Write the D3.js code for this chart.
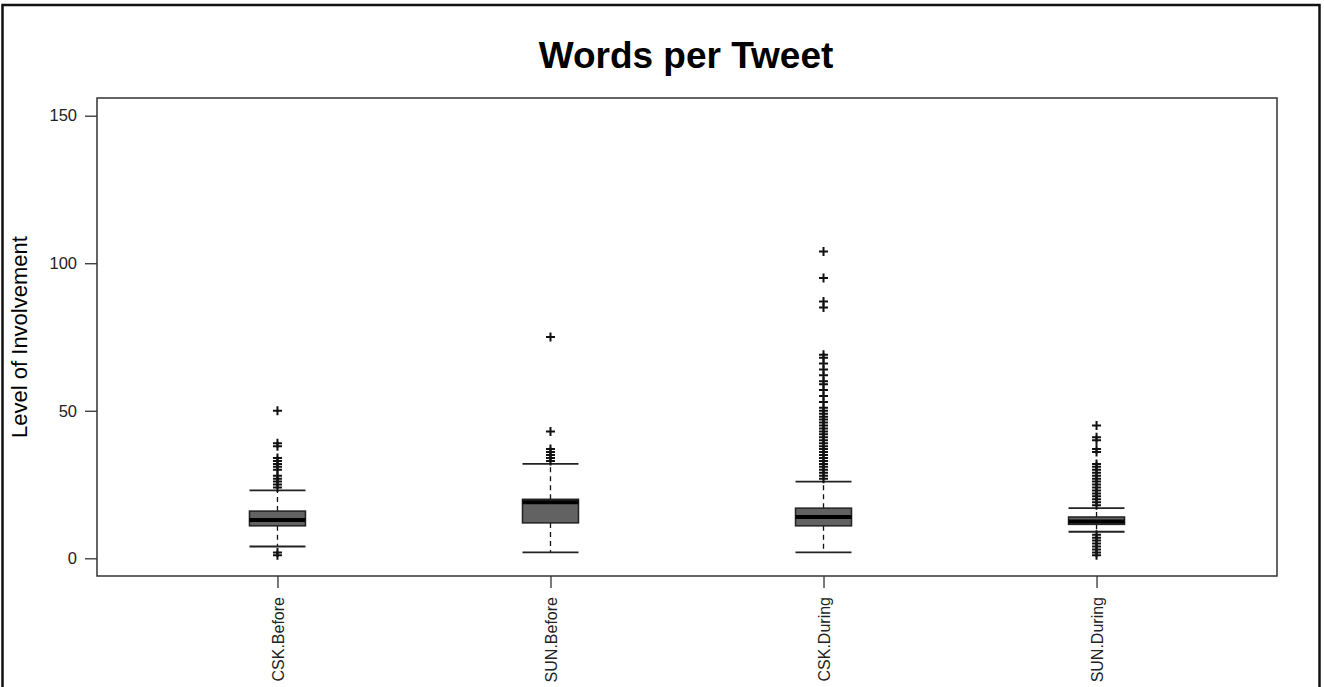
<!DOCTYPE html>
<html>
<head>
<meta charset="utf-8">
<script src="https://cdn.jsdelivr.net/npm/d3@7"></script>
<style>
  body { margin: 0; background: #fff; }
  svg { display: block; font-family: "Liberation Sans", Arial, sans-serif; }
</style>
</head>
<body>
<div id="chartWrapper"></div>
<script>
//data
const categories = ['CSK.Before', 'SUN.Before', 'CSK.During', 'SUN.During'];
const q1Values = [11, 12, 11, 11.5];
const medianValues = [13, 19, 14, 12.5];
const q3Values = [16, 20, 17, 14];
const whiskerLow = [4, 2, 2, 9];
const whiskerHigh = [23, 32, 26, 17];
const outliersCskBefore = [50, 39, 38, 34, 33, 32, 31, 30, 28, 27, 26, 25, 24, 2, 1];
const outliersSunBefore = [75, 43, 37, 36, 35, 34, 33];
const outliersCskDuring = [104, 95, 87, 85, 69, 68, 66, 64, 62, 60, 59, 57, 55, 53, 51, 50,
    49, 48, 47, 46, 45, 44, 43, 42, 41, 40, 39, 38, 37, 36, 35, 34, 33, 32, 31, 30, 29, 28, 27];
const outliersSunDuring = [45, 41, 40, 37, 36, 32, 31, 30, 29, 28, 27, 26, 25, 24, 23, 22, 21, 20, 19, 18,
    8, 7, 6, 5, 4, 3, 2, 1];
const yTicks = [0, 50, 100, 150];

//layout constants
const CONSTANTS = {
    WIDTH: 1324,
    HEIGHT: 687,
    PLOT_LEFT: 97,
    PLOT_RIGHT: 1277,
    PLOT_TOP: 98,
    PLOT_BOTTOM: 576,
    BOX_WIDTH: 56,
    BOX_FILL: '#626262',
    TICK_SIZE: 12
};

const outliers = [outliersCskBefore, outliersSunBefore, outliersCskDuring, outliersSunDuring];
const boxes = categories.map((c, i) => ({
    name: c,
    q1: q1Values[i],
    median: medianValues[i],
    q3: q3Values[i],
    low: whiskerLow[i],
    high: whiskerHigh[i],
    outliers: outliers[i]
}));

const svg = d3.select('#chartWrapper')
    .append('svg')
    .attr('width', CONSTANTS.WIDTH)
    .attr('height', CONSTANTS.HEIGHT);

//outer frame of the figure
svg.append('rect')
    .attr('x', 2.5).attr('y', 5)
    .attr('width', 1317).attr('height', 700)
    .attr('fill', 'none')
    .attr('stroke', '#111')
    .attr('stroke-width', 2.5);

//scales
let x = d3.scalePoint()
    .domain(categories)
    .range([CONSTANTS.PLOT_LEFT, CONSTANTS.PLOT_RIGHT])
    .padding(0.661);

let y = d3.scaleLinear()
    .domain([-6, 156])
    .range([CONSTANTS.PLOT_BOTTOM, CONSTANTS.PLOT_TOP]);

//title
svg.append('text')
    .attr('x', 686).attr('y', 68)
    .attr('text-anchor', 'middle')
    .style('font-size', '37px')
    .style('font-weight', 'bold')
    .text('Words per Tweet');

//y axis
let yAxis = d3.axisLeft(y).tickValues(yTicks).tickSize(CONSTANTS.TICK_SIZE).tickPadding(8);
let gy = svg.append('g')
    .attr('transform', 'translate(' + CONSTANTS.PLOT_LEFT + ',0)')
    .call(yAxis);
gy.select('.domain').remove();
gy.selectAll('line').attr('stroke', '#333').attr('stroke-width', 1.3);
gy.selectAll('text').style('font-size', '16.5px').attr('fill', '#222').style('font-family', '"Liberation Sans", Arial, sans-serif');

//x axis
let xAxis = d3.axisBottom(x).tickSize(CONSTANTS.TICK_SIZE).tickPadding(9);
let gx = svg.append('g')
    .attr('transform', 'translate(0,' + CONSTANTS.PLOT_BOTTOM + ')')
    .call(xAxis);
gx.select('.domain').remove();
gx.selectAll('line').attr('stroke', '#333').attr('stroke-width', 1.3);
gx.selectAll('text')
    .style('font-size', '16px')
    .style('font-family', '"Liberation Sans", Arial, sans-serif')
    .attr('fill', '#222')
    .attr('text-anchor', 'end')
    .attr('transform', 'rotate(-90)')
    .attr('x', -21)
    .attr('y', 0)
    .attr('dy', '0.35em');

//y axis title
svg.append('text')
    .attr('transform', 'translate(27,337) rotate(-90)')
    .attr('text-anchor', 'middle')
    .style('font-size', '22px')
    .text('Level of Involvement');

//boxes
let g = svg.append('g');
let bw = CONSTANTS.BOX_WIDTH;

boxes.forEach(b => {
    let cx = x(b.name);
    //dashed whiskers
    g.append('line')
        .attr('x1', cx).attr('x2', cx)
        .attr('y1', y(b.q3)).attr('y2', y(b.high))
        .attr('stroke', '#111').attr('stroke-width', 1.3)
        .attr('stroke-dasharray', '5,4');
    g.append('line')
        .attr('x1', cx).attr('x2', cx)
        .attr('y1', y(b.q1)).attr('y2', y(b.low))
        .attr('stroke', '#111').attr('stroke-width', 1.3)
        .attr('stroke-dasharray', '5,4');
    //caps
    [b.low, b.high].forEach(v => {
        g.append('line')
            .attr('x1', cx - bw / 2).attr('x2', cx + bw / 2)
            .attr('y1', y(v)).attr('y2', y(v))
            .attr('stroke', '#222').attr('stroke-width', 1.8);
    });
    //box
    g.append('rect')
        .attr('x', cx - bw / 2)
        .attr('y', y(b.q3))
        .attr('width', bw)
        .attr('height', y(b.q1) - y(b.q3))
        .attr('fill', CONSTANTS.BOX_FILL)
        .attr('stroke', '#222')
        .attr('stroke-width', 1.5);
    //median
    g.append('line')
        .attr('x1', cx - bw / 2).attr('x2', cx + bw / 2)
        .attr('y1', y(b.median)).attr('y2', y(b.median))
        .attr('stroke', '#000').attr('stroke-width', 4);
    //outliers as plus signs
    g.selectAll(null)
        .data(b.outliers)
        .enter()
        .append('path')
        .attr('d', v => 'M' + (cx - 4.5) + ',' + y(v) + 'H' + (cx + 4.5) + 'M' + cx + ',' + (y(v) - 4.5) + 'V' + (y(v) + 4.5))
        .attr('stroke', '#111')
        .attr('stroke-width', 2)
        .attr('fill', 'none');
});

//plot frame
svg.append('rect')
    .attr('x', CONSTANTS.PLOT_LEFT).attr('y', CONSTANTS.PLOT_TOP)
    .attr('width', CONSTANTS.PLOT_RIGHT - CONSTANTS.PLOT_LEFT)
    .attr('height', CONSTANTS.PLOT_BOTTOM - CONSTANTS.PLOT_TOP)
    .attr('fill', 'none')
    .attr('stroke', '#333')
    .attr('stroke-width', 1.5);
</script>
</body>
</html>
